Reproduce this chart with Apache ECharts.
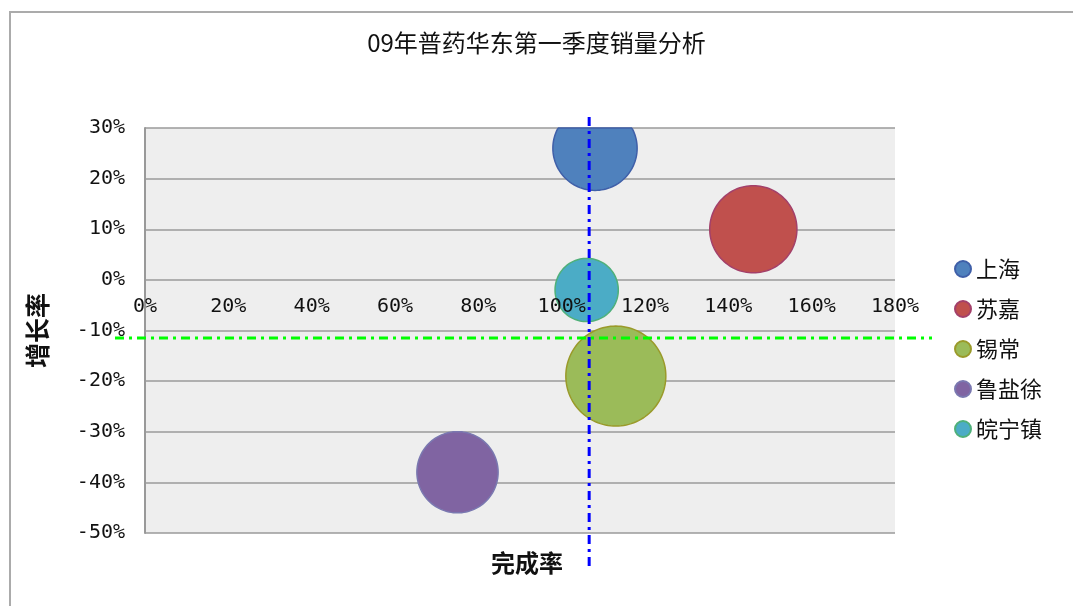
<!DOCTYPE html>
<html>
<head>
<meta charset="utf-8">
<title>09年普药华东第一季度销量分析</title>
<script src="https://cdn.jsdelivr.net/npm/echarts@6/dist/echarts.min.js"></script>
<style>
  html, body { margin: 0; padding: 0; background: #fff; }
  #chart { width: 1073px; height: 606px; }
</style>
</head>
<body>
<div id="chart"></div>
<script>
// 数据 (完成率 / 增长率 单位: %)
var regions = ['上海', '苏嘉', '锡常', '鲁盐徐', '皖宁镇'];
var completion = [108, 146, 113, 75, 106];
var growth = [26, 10, -19, -38, -2];
var sales = [71, 76, 100, 66, 40];   // 气泡大小(相对销量)
var avgCompletion = 106.6;           // 蓝色参考线
var avgGrowth = -11.5;               // 绿色参考线

var xMin = 0, xMax = 180, xStep = 20;
var yMin = -50, yMax = 30, yStep = 10;

var fillColors = ['#4F81BD', '#C0504D', '#9BBB59', '#8064A2', '#4BACC6'];
var borderColors = ['#3F5FA8', '#A3406A', '#9A9A2A', '#7A78B0', '#4FB07A'];

var maxSales = Math.max.apply(null, sales);
var maxRadius = 50;   // 最大气泡半径
var radiusOf = function (v) {
    return maxRadius * Math.sqrt(v / maxSales);
};

var cjk = '"Noto Sans CJK SC", "Noto Sans", sans-serif';
var mono = '"DejaVu Sans Mono", monospace';

var series = [];
for (var i = 0; i < regions.length; i++) {
    (function (idx) {
        series.push({
            name: regions[idx],
            type: 'custom',
            z: 3,
            itemStyle: {
                color: fillColors[idx],
                borderColor: borderColors[idx],
                borderWidth: 1.5
            },
            data: [[completion[idx], growth[idx], sales[idx]]],
            renderItem: function (params, api) {
                var p = api.coord([api.value(0), api.value(1)]);
                var tl = api.coord([xMin, yMax]);
                var br = api.coord([xMax, yMin]);
                var r = radiusOf(api.value(2));
                // 圆转成多边形, 超出绘图区的部分压到边上
                var pts = [];
                for (var k = 0; k < 120; k++) {
                    var a = k / 120 * Math.PI * 2;
                    var px = p[0] + r * Math.cos(a);
                    var py = p[1] + r * Math.sin(a);
                    px = Math.min(Math.max(px, tl[0]), br[0]);
                    py = Math.min(Math.max(py, tl[1]), br[1]);
                    pts.push([px, py]);
                }
                return {
                    type: 'polygon',
                    shape: { points: pts },
                    style: {
                        fill: fillColors[idx],
                        stroke: borderColors[idx],
                        lineWidth: 1.5
                    }
                };
            }
        });
    })(i);
}

// 参考线(超出绘图区少许)
series.push({
    name: 'refLines',
    type: 'custom',
    clip: false,
    z: 10,
    silent: true,
    data: [[avgCompletion, avgGrowth]],
    renderItem: function (params, api) {
        var cs = params.coordSys;
        var p = api.coord([api.value(0), api.value(1)]);
        return {
            type: 'group',
            children: [{
                type: 'line',
                shape: { x1: cs.x - 30, y1: p[1], x2: cs.x + cs.width + 37, y2: p[1] },
                style: { stroke: '#00FF00', lineWidth: 3, lineDash: [9, 5, 3, 5] }
            }, {
                type: 'line',
                shape: { x1: p[0], y1: cs.y - 11, x2: p[0], y2: cs.y + cs.height + 34 },
                style: { stroke: '#0000FF', lineWidth: 3, lineDash: [9, 5, 3, 5] }
            }]
        };
    }
});

var myChart = echarts.init(document.getElementById('chart'));
var option = {
    backgroundColor: '#fff',
    animation: false,
    title: {
        text: '09年普药华东第一季度销量分析',
        left: 'center',
        top: 26,
        textStyle: { fontFamily: cjk, fontSize: 24, fontWeight: 'normal', color: '#111' }
    },
    graphic: [{
        type: 'rect',
        shape: { x: 10, y: 12, width: 1200, height: 800 },
        style: { fill: 'none', stroke: '#ababab', lineWidth: 2 },
        silent: true
    }],
    legend: {
        data: regions,
        orient: 'vertical',
        left: 949,
        top: 252,
        icon: 'circle',
        itemWidth: 16,
        itemHeight: 16,
        itemGap: 16,
        textStyle: { fontFamily: cjk, fontSize: 22, color: '#111', lineHeight: 24 }
    },
    grid: {
        left: 145, right: 178, top: 128, bottom: 73,
        show: true,
        backgroundColor: '#eeeeee',
        borderWidth: 0,
        containLabel: false,
        outerBoundsMode: 'none'
    },
    xAxis: {
        type: 'value',
        position: 'bottom',
        z: 5,
        min: xMin, max: xMax, interval: xStep,
        axisLine: { show: false, onZero: false },
        axisTick: { show: false },
        splitLine: { show: false },
        axisLabel: {
            margin: 17,
            formatter: '{value}%',
            fontFamily: mono, fontSize: 20, color: '#111'
        },
        name: '完成率',
        nameLocation: 'middle',
        nameGap: 271,
        nameTextStyle: { fontFamily: cjk, fontSize: 24, fontWeight: 'bold', color: '#111', padding: [0, 0, 0, 14] }
    },
    yAxis: {
        type: 'value',
        min: yMin, max: yMax, interval: yStep,
        axisLine: { onZero: false, lineStyle: { color: '#999', width: 2 } },
        axisTick: { show: false },
        splitLine: { show: true, lineStyle: { color: '#9a9a9a', width: 1.5 } },
        axisLabel: {
            margin: 20,
            formatter: '{value}%',
            fontFamily: mono, fontSize: 20, color: '#111'
        },
        name: '增长率',
        nameLocation: 'middle',
        nameRotate: 90,
        nameGap: 95,
        nameTextStyle: { fontFamily: cjk, fontSize: 25, fontWeight: 'bold', color: '#111' }
    },
    series: series
};
myChart.setOption(option);

// x轴刻度文字移到 y=0 处: 用 y 轴比例尺求出偏移
var zeroY = myChart.convertToPixel({ yAxisIndex: 0 }, 0);
var topY = myChart.convertToPixel({ yAxisIndex: 0 }, yMax);
var bottomY = myChart.convertToPixel({ yAxisIndex: 0 }, yMin);
var leftX = myChart.convertToPixel({ xAxisIndex: 0 }, xMin);
var rightX = myChart.convertToPixel({ xAxisIndex: 0 }, xMax);
myChart.setOption({
    xAxis: { offset: zeroY - bottomY },
    graphic: [{
        type: 'rect',
        shape: { x: 10, y: 12, width: 1200, height: 800 },
        style: { fill: 'none', stroke: '#ababab', lineWidth: 2 },
        silent: true
    }, {
        // 绘图区上方遮罩, 盖住超出的气泡
        type: 'rect',
        z: 4,
        shape: { x: leftX, y: topY - 60, width: rightX - leftX, height: 59 },
        style: { fill: '#fff' },
        silent: true
    }]
});
</script>
</body>
</html>
